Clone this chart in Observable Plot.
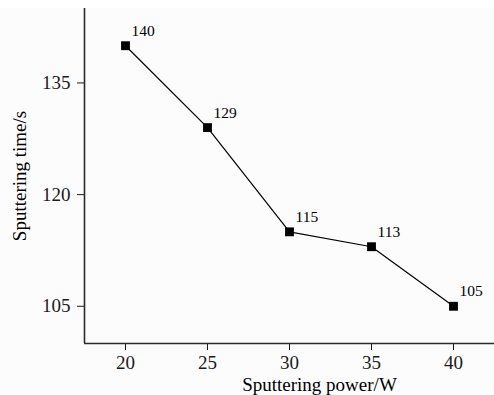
<!DOCTYPE html>
<html>
<head>
<meta charset="utf-8">
<script src="https://cdn.jsdelivr.net/npm/d3@7"></script>
<script src="https://cdn.jsdelivr.net/npm/@observablehq/plot@0.6"></script>
<style>
  html, body { margin: 0; padding: 0; background: #ffffff; }
  #chart { padding-top: 8px; width: 494px; }
  #chart svg { display: block; }
</style>
</head>
<body>
<div id="chart"></div>
<script>
const power = [20, 25, 30, 35, 40];
const time = [140, 129, 115, 113, 105];
const xTicks = [20, 25, 30, 35, 40];
const yTicks = [105, 120, 135];
const xDomain = [17.5, 42.5];
const yDomain = [100, 145];
const xLabel = "Sputtering power/W";
const yLabel = "Sputtering time/s";

const data = power.map((p, i) => ({power: p, time: time[i]}));

const chart = Plot.plot({
  width: 494,
  height: 387,
  marginLeft: 84,
  marginRight: 0,
  marginTop: 0,
  marginBottom: 52,
  style: {
    fontFamily: "'Liberation Serif', 'Times New Roman', serif",
    fontSize: "19px",
    background: "#fcfcfc",
    color: "#1a1a1a"
  },
  x: {domain: xDomain, ticks: xTicks, tickSize: 7, tickPadding: 5, label: null},
  y: {domain: yDomain, ticks: yTicks, tickSize: 7, tickPadding: 7, label: null},
  marks: [
    Plot.ruleX([xDomain[0]], {stroke: "#2a2a2a", strokeWidth: 1.6}),
    Plot.ruleY([yDomain[0]], {stroke: "#2a2a2a", strokeWidth: 1.6}),
    Plot.line(data, {x: "power", y: "time", stroke: "#000", strokeWidth: 1.2}),
    Plot.dot(data, {x: "power", y: "time", symbol: "square", fill: "#000", stroke: "none", r: 5}),
    Plot.text(data, {x: "power", y: "time", text: d => String(d.time), dx: 6, dy: -15, textAnchor: "start", fontSize: 15.5, fill: "#000"}),
    Plot.text([xLabel], {frameAnchor: "bottom", text: d => d, dx: 30, dy: 34, lineAnchor: "top", textAnchor: "middle", fontSize: 19, fill: "#000"}),
    Plot.text([yLabel], {frameAnchor: "left", text: d => d, rotate: -90, dx: -72, lineAnchor: "top", textAnchor: "middle", fontSize: 19, fill: "#000"})
  ]
});
document.getElementById("chart").appendChild(chart);
</script>
</body>
</html>
